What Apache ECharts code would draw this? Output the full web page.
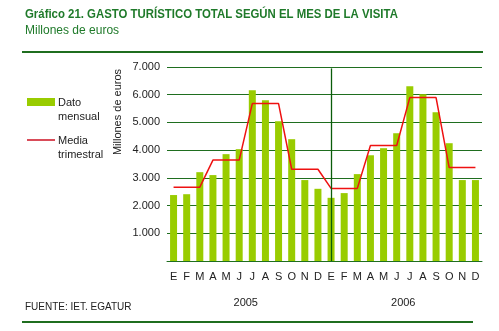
<!DOCTYPE html>
<html>
<head>
<meta charset="utf-8">
<script src="https://cdn.jsdelivr.net/npm/echarts@6/dist/echarts.min.js"></script>
<style>html,body{margin:0;padding:0;background:#fff}#c{width:499px;height:331px}</style>
</head>
<body>
<div id="c"></div>
<script>
var months = ['E','F','M','A','M','J','J','A','S','O','N','D','E','F','M','A','M','J','J','A','S','O','N','D'];
var years = ['2005','2006'];
var monthly = [2380,2410,3205,3100,3855,4035,6160,5800,5040,4395,2920,2605,
               2280,2450,3135,3815,4070,4610,6305,6015,5365,4250,2920,2920];
var quarterly = [2665,2665,2665,3640,3640,3640,5680,5680,5680,3310,3310,3310,
                 2620,2620,2620,4165,4165,4165,5895,5895,5895,3370,3370,3370];
var yTicks = [0,1000,2000,3000,4000,5000,6000,7000];

var green = '#1f6e1f';
var chart = echarts.init(document.getElementById('c'), null, {renderer:'canvas'});
function fmt(v){ return v === 0 ? '' : String(v).replace(/\B(?=(\d{3})+(?!\d))/g, '.'); }

chart.setOption({
  animation:false,
  textStyle:{fontFamily:'Liberation Sans, Arial, sans-serif'},
  grid:{left:167, right:17, top:67, bottom:70, containLabel:false},
  xAxis:[{
    type:'category', data:months, position:'bottom',
    axisLine:{show:true, lineStyle:{color:green, width:1}},
    axisTick:{show:false},
    axisLabel:{color:'#222', fontSize:11, margin:10, interval:0},
    splitLine:{show:false}
  },{
    type:'category', data:years, position:'bottom', offset:26,
    axisLine:{show:false}, axisTick:{show:false},
    axisLabel:{color:'#222', fontSize:11, margin:10}
  }],
  yAxis:{
    type:'value', min:0, max:7000, interval:1000,
    axisLine:{show:false}, axisTick:{show:false},
    axisLabel:{color:'#222', fontSize:11, margin:7, formatter:fmt},
    splitLine:{show:true, lineStyle:{color:green, width:1}}
  },
  series:[{
    type:'bar', data:monthly, barWidth:7, xAxisIndex:0,
    itemStyle:{color:'#99cc00'},
    markLine:{
      silent:true, symbol:'none', label:{show:false},
      lineStyle:{color:'#0a5c0a', width:1.3, type:'solid', opacity:1},
      emphasis:{disabled:true},
      data:[[{coord:[11.82,6950]},{coord:[11.82,0]}]]
    }
  },{
    type:'line', data:quarterly, xAxisIndex:0, symbol:'none',
    lineStyle:{color:'#ee1111', width:1.5}, itemStyle:{color:'#ee1111'}
  }],
  graphic:[
    {type:'text', left:25, top:9, scaleX:0.95, style:{text:'Gráfico 21. GASTO TURÍSTICO TOTAL SEGÚN EL MES DE LA VISITA', fill:'#1f7a2a', font:'bold 12px "Liberation Sans", Arial, sans-serif'}},
    {type:'text', left:25, top:25, style:{text:'Millones de euros', fill:'#1f7a2a', font:'12px "Liberation Sans", Arial, sans-serif'}},
    {type:'line', shape:{x1:22, y1:52, x2:483, y2:52}, style:{stroke:green, lineWidth:2}},
    {type:'line', shape:{x1:22, y1:322, x2:473, y2:322}, style:{stroke:green, lineWidth:2}},
    {type:'text', left:25, top:302, style:{text:'FUENTE: IET. EGATUR', fill:'#222', font:'10px "Liberation Sans", Arial, sans-serif'}},
    {type:'text', x:118, y:112, rotation:Math.PI/2, style:{text:'Millones de euros', fill:'#222', font:'11px "Liberation Sans", Arial, sans-serif', textAlign:'center', textVerticalAlign:'middle'}},
    {type:'rect', shape:{x:27, y:98, width:28, height:8}, style:{fill:'#99cc00'}},
    {type:'text', left:58, top:96, style:{text:'Dato\nmensual', fill:'#222', font:'11px "Liberation Sans", Arial, sans-serif', lineHeight:14}},
    {type:'line', shape:{x1:27, y1:140, x2:55, y2:140}, style:{stroke:'#cc1122', lineWidth:1.5}},
    {type:'text', left:58, top:134, style:{text:'Media\ntrimestral', fill:'#222', font:'11px "Liberation Sans", Arial, sans-serif', lineHeight:14}}
  ]
});
</script>
</body>
</html>
